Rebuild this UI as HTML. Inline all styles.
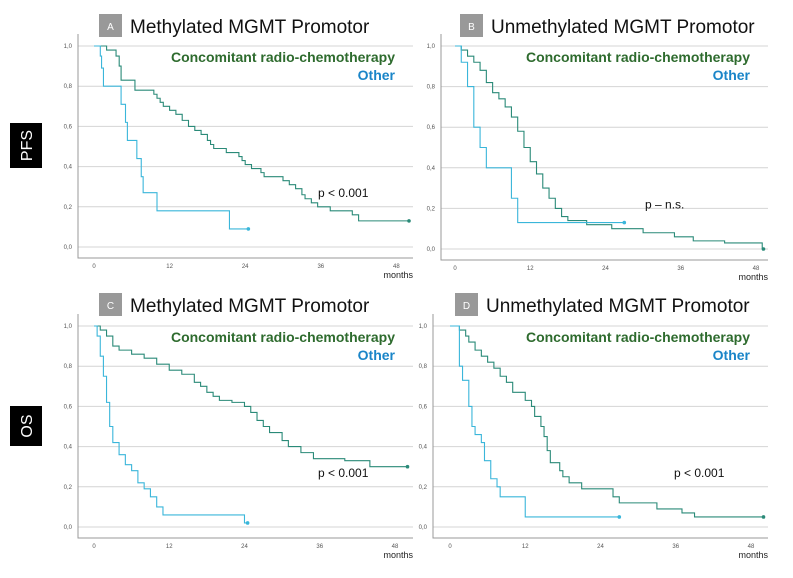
<!DOCTYPE html>
<html><head><meta charset="utf-8"><style>
body{margin:0;background:#fff;width:793px;height:573px;overflow:hidden;font-family:"Liberation Sans",sans-serif}
</style></head><body>
<svg id="chart" width="793" height="573" xmlns="http://www.w3.org/2000/svg" font-family="Liberation Sans, sans-serif"></svg>
<script>
const yTicks=[0,0.2,0.4,0.6,0.8,1.0];
const yTickLabels=["0,0","0,2","0,4","0,6","0,8","1,0"];
const xTicks=[0,12,24,36,48];
const titles=["Methylated MGMT Promotor","Unmethylated MGMT Promotor","Methylated MGMT Promotor","Unmethylated MGMT Promotor"];
const letters=["A","B","C","D"];
const pvals=["p < 0.001","p – n.s.","p < 0.001","p < 0.001"];
// step data: [time, survival]
const aGreen=[[0,1],[2,0.98],[3.5,0.95],[4,0.9],[4.3,0.83],[6.5,0.78],[9.5,0.76],[10,0.74],[10.5,0.72],[11,0.7],[12,0.68],[13,0.66],[14,0.63],[15,0.6],[16,0.58],[17,0.56],[18,0.53],[18.5,0.51],[19,0.49],[21,0.47],[23,0.45],[23.5,0.43],[24,0.41],[25,0.39],[26.5,0.37],[27,0.35],[30,0.33],[31,0.31],[32,0.29],[33,0.26],[33.5,0.24],[34.5,0.22],[35.5,0.2],[37.5,0.18],[41,0.16],[42,0.13],[50,0.13]];
const aOther=[[0,1],[1,0.95],[1.2,0.89],[1.5,0.8],[4.3,0.71],[5,0.62],[5.3,0.53],[6.8,0.44],[7.5,0.35],[7.8,0.27],[10,0.18],[21.5,0.09],[24.5,0.09]];
const bGreen=[[0,1],[1,0.98],[2,0.95],[3,0.92],[4,0.88],[5,0.82],[6,0.77],[7,0.74],[8,0.7],[9,0.65],[10,0.58],[11,0.5],[12,0.43],[13,0.37],[14,0.3],[15,0.25],[16,0.2],[17,0.16],[18,0.14],[21,0.12],[25,0.1],[30,0.08],[35,0.06],[38,0.04],[43,0.03],[49,0],[49.2,0]];
const bOther=[[0,1],[1,0.92],[2,0.8],[3,0.6],[4,0.5],[5,0.4],[9,0.25],[10,0.13],[27,0.13]];
const cGreen=[[0,1],[1,0.98],[2,0.95],[3,0.9],[4,0.88],[6,0.86],[8,0.84],[10,0.81],[12,0.78],[14,0.76],[16,0.72],[17,0.7],[18,0.67],[19,0.65],[20,0.63],[22,0.62],[24,0.6],[25,0.57],[26,0.53],[27,0.5],[28,0.47],[30,0.43],[31,0.4],[33,0.37],[35,0.34],[40,0.33],[44,0.3],[50,0.3]];
const cOther=[[0,1],[0.5,0.95],[1,0.85],[1.5,0.75],[2,0.62],[2.5,0.5],[3,0.42],[4,0.36],[5,0.31],[6,0.28],[7,0.22],[8,0.19],[9,0.15],[10,0.1],[11,0.06],[24,0.02],[24.5,0.02]];
const dGreen=[[0,1],[1.5,0.98],[2.5,0.95],[3,0.92],[4,0.88],[5,0.85],[6,0.82],[7,0.79],[8,0.75],[9,0.72],[10,0.67],[12,0.63],[13,0.6],[13.5,0.55],[14.5,0.5],[15,0.45],[15.5,0.38],[16,0.32],[17.5,0.28],[18,0.25],[19,0.22],[21,0.19],[26,0.15],[27,0.12],[33,0.09],[37,0.07],[39,0.05],[50,0.05]];
const dOther=[[0,1],[1.5,0.8],[2,0.73],[3,0.6],[3.5,0.5],[4,0.46],[5,0.42],[5.5,0.33],[6.5,0.24],[7.5,0.2],[8,0.15],[12,0.05],[27,0.05]];
const greens=[aGreen,bGreen,cGreen,dGreen];
const others=[aOther,bOther,cOther,dOther];

const svg=document.getElementById('chart');
const NS="http://www.w3.org/2000/svg";
function mk(tag,attrs,parent){const e=document.createElementNS(NS,tag);for(const k in attrs)e.setAttribute(k,attrs[k]);(parent||svg).appendChild(e);return e;}
const panels=[{ax:78,x0:94,pm:6.3,y1:46,y0:247,right:413,top:14},{ax:441,x0:455,pm:6.27,y1:46,y0:249,right:768,top:14},{ax:78,x0:94,pm:6.27,y1:326,y0:527,right:413,top:293},{ax:433,x0:450,pm:6.27,y1:326,y0:527,right:768,top:293}];
panels.forEach((p,i)=>{
  const g=mk('g',{});
  
  
  const X=t=>p.x0+t*p.pm, Y=s=>p.y0-s*(p.y0-p.y1);
  yTicks.forEach((v,k)=>{
    const l=mk('line',{x1:p.ax,x2:p.right,y1:Y(v),y2:Y(v),stroke:'#d4d4d4','stroke-width':1},g);
    
    
    const t=mk('text',{x:p.ax-6,y:Y(v)+2,'font-size':6,'text-anchor':'end',fill:'#555'},g);
    t.textContent=yTickLabels[k];
    
    
  });
  const axB=p.y0+11;
  const ax=mk('path',{d:`M${p.ax},${p.y1-12}V${axB}H${p.right}`,fill:'none',stroke:'#999','stroke-width':1},g);
  
  
  xTicks.forEach(v=>{
    const t=mk('text',{x:X(v),y:axB+10,'font-size':6,'text-anchor':'middle',fill:'#555'},g);
    t.textContent=v;
    
    
  });
  const m=mk('text',{x:p.right,y:axB+20,'font-size':9,'text-anchor':'end',fill:'#222'},g);
  m.textContent='months';
  
  
  [[greens[i],'#2a8a78','green-curve'],[others[i],'#3ab6da','other-curve']].forEach(([d,c,n])=>{
    let s=`M${X(d[0][0])},${Y(d[0][1])}`;
    for(let k=1;k<d.length;k++){s+=`H${X(d[k][0])}V${Y(d[k][1])}`;}
    const pa=mk('path',{d:s,fill:'none',stroke:c,'stroke-width':1.1},g);
    
    
    const last=d[d.length-1];
    const e=mk('circle',{cx:X(last[0]),cy:Y(last[1]),r:1.8,fill:c},g);
    
    
  });
  const bx=mk('rect',{x:p.x0+5,y:p.top,width:23,height:23,fill:'#999'},g);
  
  
  const lt=mk('text',{x:p.x0+16.5,y:p.top+16,'font-size':10,'text-anchor':'middle',fill:'#fff'},g);
  lt.textContent=letters[i];
  
  
  const tt=mk('text',{x:p.x0+36,y:p.top+19,'font-size':19,fill:'#111'},g);
  tt.textContent=titles[i];
  
  
  const lg=mk('text',{x:p.right-18,y:p.y1+16,'font-size':14,'font-weight':'bold','text-anchor':'end',fill:'#2e6b2e'},g);
  lg.textContent='Concomitant radio-chemotherapy';
  
  
  const lo=mk('text',{x:p.right-18,y:p.y1+34,'font-size':14,'font-weight':'bold','text-anchor':'end',fill:'#1a85c8'},g);
  lo.textContent='Other';
  
  
  const pv=mk('text',{x:p.x0+(i==1?190:224),y:Y(i==1?0.2:0.25),'font-size':12,fill:'#111'},g);
  pv.textContent=pvals[i];
  
  
});
[['PFS',123,45],['OS',406,40]].forEach(([txt,y,h])=>{
  const r=mk('rect',{x:10,y:y,width:32,height:h,fill:'#000'});
  
  
  const t=mk('text',{x:0,y:0,'font-size':16,fill:'#fff','text-anchor':'middle',transform:`translate(32,${y+h/2}) rotate(-90)`});
  t.textContent=txt;
  
  
});
</script>
</body></html>
